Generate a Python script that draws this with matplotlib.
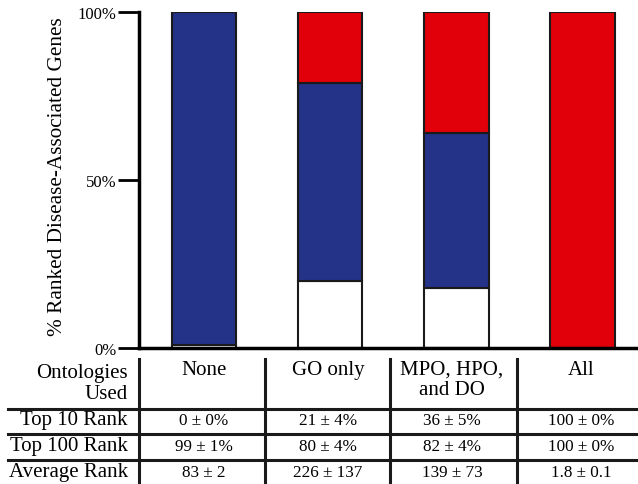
import matplotlib
matplotlib.use("Agg")
import matplotlib.pyplot as plt
import numpy as np

plt.rcParams['font.family'] = ['Liberation Serif', 'DejaVu Serif']

# data
groups = ['None', 'GO only', 'MPO, HPO,\nand DO', 'All']
white_pct = [1, 20, 18, 0]      # ranked beyond top 100
blue_pct = [99, 59, 46, 0]      # top 100 but not top 10
red_pct = [0, 21, 36, 100]      # top 10
row_labels = ['Top 10 Rank', 'Top 100 Rank', 'Average Rank']
top10 = ['0 ± 0%', '21 ± 4%', '36 ± 5%', '100 ± 0%']
top100 = ['99 ± 1%', '80 ± 4%', '82 ± 4%', '100 ± 0%']
avg_rank = ['83 ± 2', '226 ± 137', '139 ± 73', '1.8 ± 0.1']

W, H = 638, 485
fig = plt.figure(figsize=(W / 100, H / 100), dpi=100)

# bar axes in pixel layout
x0, x1, ytop, ybot = 139, 638, 13, 349
ax = fig.add_axes([x0 / W, (H - ybot) / H, (x1 - x0) / W, (ybot - ytop) / H])
pos = np.arange(len(groups))
bw = 0.51
blue = '#243287'
red = '#e1000a'
ax.bar(pos, white_pct, bw, color='white', edgecolor='#1a1a1a', linewidth=1.5)
ax.bar(pos, blue_pct, bw, bottom=white_pct, color=blue, edgecolor='#1a1a1a', linewidth=1.5)
ax.bar(pos, red_pct, bw, bottom=np.add(white_pct, blue_pct), color=red,
       edgecolor='#1a1a1a', linewidth=1.5)
ax.set_xlim(-0.516, 3.44)
ax.set_ylim(0, 100)
ax.set_yticks([0, 50, 100])
ax.set_yticklabels(['0%', '50%', '100%'], fontsize=12)
ax.tick_params(axis='y', direction='out', length=15, width=2, pad=1)
ax.set_xticks([])
for s in ['top', 'right']:
    ax.spines[s].set_visible(False)
for s in ['left', 'bottom']:
    ax.spines[s].set_linewidth(2.5)
ax.set_ylabel('% Ranked Disease-Associated Genes', fontsize=15.3)
ax.yaxis.set_label_coords(-(139 - 67) / (x1 - x0), 0.512)

# table drawn in pixel coordinates
tab = fig.add_axes([0, 0, 1, 1])
tab.set_xlim(0, W)
tab.set_ylim(H, 0)
tab.axis('off')
col_x = [204, 328, 452, 581]
vlines = [139, 265, 390, 517]
for vx in vlines:
    tab.plot([vx, vx], [360, H], color='#1a1a1a', lw=2.2)
for hy in [410, 435, 461]:
    tab.plot([8, W], [hy, hy], color='#1a1a1a', lw=2.2)

tab.text(128, 384, 'Ontologies\nUsed', ha='right', va='center', fontsize=15,
         linespacing=1.1)
for cx, g in zip(col_x, groups):
    tab.text(cx, 361, g, ha='center', va='top', fontsize=15, linespacing=1.1)

row_y = [421, 447, 473]
for ry, lab, vals in zip(row_y, row_labels, [top10, top100, avg_rank]):
    tab.text(128, ry, lab, ha='right', va='center', fontsize=15)
    for cx, v in zip(col_x, vals):
        tab.text(cx, ry, v, ha='center', va='center', fontsize=12.3)

fig.savefig('out.png', dpi=100)
